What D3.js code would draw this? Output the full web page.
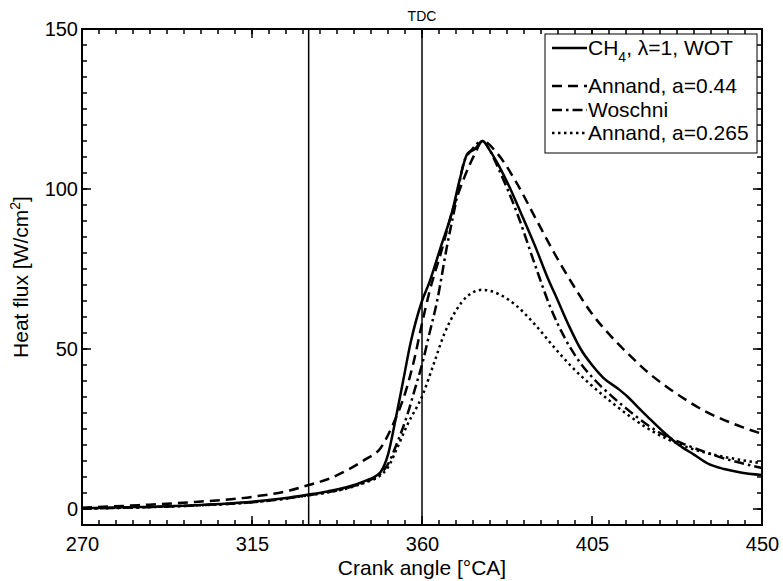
<!DOCTYPE html>
<html>
<head>
<meta charset="utf-8">
<script src="https://cdn.jsdelivr.net/npm/d3@7"></script>
<style>
  body { margin: 0; background: #fff; }
  svg { font-family: "Liberation Sans", Arial, Helvetica, sans-serif; }
  .axis path { display: none; }
  .axis text { font-size: 20px; fill: #000; }
</style>
</head>
<body>
<svg id="chart"></svg>
<script>
// tick labels and marker positions
const angleTicks = [270, 315, 360, 405, 450];
const fluxTicks = [0, 50, 100, 150];
const markerAngles = [330, 360];

// CH4, lambda=1, WOT (measured)
const measAngle = [270, 285, 300, 315, 325, 330, 335, 340, 345, 348, 349, 351, 353, 355, 357, 360, 362, 365, 368, 370, 372, 374, 376, 378, 380, 383, 386, 390, 393, 396, 399, 402, 405, 408, 412, 414.5, 417, 420, 424, 428, 432, 436, 440, 444, 450];
const measFlux  = [0.2, 0.6, 1.2, 2.3, 3.6, 4.5, 5.5, 6.8, 8.8, 10.5, 11.5, 17, 28, 40, 52, 65, 71, 82, 93, 103, 111, 112.5, 115, 112, 108, 101, 93, 82, 73, 65, 57, 50, 45, 41, 37.5, 35, 32, 28.5, 24, 20, 17, 14, 12.5, 11.5, 10.6];

// Annand, a=0.44
const ann44Angle = [270, 285, 300, 315, 325, 330, 335, 340, 345, 349, 352, 356, 358, 360, 362, 365, 368, 371, 374, 376, 380, 385, 390, 395, 400, 405, 410, 415, 420, 425, 430, 435, 440, 445, 450];
const ann44Flux  = [0.4, 1.2, 2.2, 3.8, 5.8, 7.5, 9.3, 12, 15.5, 19, 25.6, 38, 47, 58, 68, 80, 93, 103, 111, 115, 111, 102, 91, 80, 70, 61, 54, 48, 42.5, 38, 34, 30.5, 27.8, 25.5, 23.5];

// Woschni
const woschAngle = [270, 285, 300, 315, 325, 330, 335, 340, 345, 349, 351, 353.4, 356, 358, 360.3, 362, 364, 366.6, 369, 371, 373, 376, 378, 380, 385, 390, 394, 398, 402, 406, 410, 415, 420, 425, 430, 435, 440, 445, 450];
const woschFlux  = [0.1, 0.5, 1.1, 2.1, 3.4, 4.3, 5.2, 6.5, 8.5, 11, 14, 20.6, 29, 37, 46.5, 55, 65, 82, 96, 108, 112, 115, 112, 107, 93, 76, 63, 53, 45.5, 40, 35.5, 30.5, 26, 22.5, 20, 17.8, 15.8, 14.2, 12.8];

// Annand, a=0.265
const ann265Angle = [270, 285, 300, 315, 325, 330, 335, 340, 345, 349, 351, 353.4, 356, 360.3, 363, 366, 369, 372, 376, 380.6, 385, 390, 395, 400, 405, 410, 415, 420, 425, 430, 435, 440, 445, 450];
const ann265Flux  = [0.1, 0.5, 1.1, 2.1, 3.4, 4.3, 5.2, 6.4, 8.3, 10.5, 13, 19, 26, 36, 45, 55, 62, 66.5, 68.5, 67, 63.5, 57.5, 50.5, 44, 38.5, 33.5, 29, 25, 21.8, 19.4, 17.6, 16.3, 15.2, 14.3];

const seriesNames = ["CH4", "Annand, a=0.44", "Woschni", "Annand, a=0.265"];

const width = 783, height = 581;
const margin = {top: 29, right: 21, bottom: 56, left: 82};
const iw = width - margin.left - margin.right;
const ih = height - margin.top - margin.bottom;

const svg = d3.select('#chart').attr('width', width).attr('height', height);
const g = svg.append('g').attr('transform', `translate(${margin.left},${margin.top})`);

const x = d3.scaleLinear().domain([270, 450]).range([0, iw]);
const y = d3.scaleLinear().domain([-5, 150]).range([ih, 0]);

const minorX = d3.range(270, 450.01, 4.5);
const minorY = d3.range(-5, 150.01, 5);

// tick labels from d3 axes
g.append('g').attr('class', 'axis').attr('transform', `translate(0,${ih})`)
    .call(d3.axisBottom(x).tickValues(angleTicks).tickSize(0).tickPadding(12).tickFormat(d3.format('d')));
g.append('g').attr('class', 'axis')
    .call(d3.axisLeft(y).tickValues(fluxTicks).tickSize(0).tickPadding(4).tickFormat(d3.format('d')));

// vertical marker lines
g.selectAll('.marker')
    .data(markerAngles)
  .join('line')
    .attr('class', 'marker')
    .attr('x1', d => x(d)).attr('x2', d => x(d))
    .attr('y1', 0).attr('y2', ih)
    .attr('stroke', '#000').attr('stroke-width', 1.5);

g.append('text')
    .attr('x', x(360)).attr('y', -8)
    .attr('text-anchor', 'middle')
    .style('font-size', '14px')
    .text('TDC');

const line = d3.line().x(d => x(d[0])).y(d => y(d[1])).curve(d3.curveMonotoneX);

const series = [
  {angle: measAngle, flux: measFlux, dash: null},
  {angle: ann44Angle, flux: ann44Flux, dash: '10,6'},
  {angle: woschAngle, flux: woschFlux, dash: '10,4,2.5,4'},
  {angle: ann265Angle, flux: ann265Flux, dash: '2.5,3.5'}
];

g.selectAll('.curve')
    .data(series)
  .join('path')
    .attr('class', 'curve')
    .attr('d', s => line(d3.zip(s.angle, s.flux)))
    .attr('fill', 'none')
    .attr('stroke', '#000')
    .attr('stroke-width', 2.5)
    .attr('stroke-dasharray', s => s.dash);

// frame
g.append('rect')
    .attr('width', iw).attr('height', ih)
    .attr('fill', 'none').attr('stroke', '#000').attr('stroke-width', 2);

// inward tick marks on all four sides, one path each
function tickPath(vals, len) {
  let p = '';
  vals.forEach(v => {
    const px = x(v);
    p += `M${px},${ih}V${ih - len}M${px},0V${len}`;
  });
  return p;
}
function tickPathY(vals, len) {
  let p = '';
  vals.forEach(v => {
    const py = y(v);
    p += `M0,${py}H${len}M${iw},${py}H${iw - len}`;
  });
  return p;
}
const tickSpecs = [
  tickPath(minorX, 5), tickPath(angleTicks, 9),
  tickPathY(minorY, 5), tickPathY(fluxTicks, 9)
];
g.selectAll('.tickmark')
    .data(tickSpecs)
  .join('path')
    .attr('class', 'tickmark')
    .attr('d', d => d)
    .attr('fill', 'none')
    .attr('stroke', '#000')
    .attr('stroke-width', 1.5);

// axis titles
svg.append('text')
    .attr('x', margin.left + iw / 2).attr('y', 575)
    .attr('text-anchor', 'middle')
    .style('font-size', '21px')
    .text('Crank angle [°CA]');

const yt = svg.append('text')
    .attr('transform', `translate(28,${margin.top + ih / 2}) rotate(-90)`)
    .attr('text-anchor', 'middle')
    .style('font-size', '21px');
yt.append('tspan').text('Heat flux [W/cm');
yt.append('tspan').attr('dy', -8).style('font-size', '14px').text('2');
yt.append('tspan').attr('dy', 8).text(']');

// legend
const lg = svg.append('g').attr('transform', 'translate(545,34)');
lg.append('rect')
    .attr('width', 212).attr('height', 119)
    .attr('fill', '#fff').attr('stroke', '#000').attr('stroke-width', 1);

const rowY = [14, 52, 76, 99];
const rows = lg.selectAll('.row')
    .data(series)
  .join('g')
    .attr('class', 'row')
    .attr('transform', (d, i) => `translate(0,${rowY[i]})`);
rows.append('line')
    .attr('x1', 7).attr('x2', 42)
    .attr('stroke', '#000').attr('stroke-width', 2.5)
    .attr('stroke-dasharray', s => s.dash);
rows.each(function(s, i) {
  const t = d3.select(this).append('text')
      .attr('x', 43).attr('dy', '0.35em')
      .style('font-size', '21px');
  if (i === 0) {
    t.append('tspan').text('CH');
    t.append('tspan').attr('dy', 7).style('font-size', '14px').text('4');
    t.append('tspan').attr('dy', -7).text(', λ=1, WOT');
  } else {
    t.text(seriesNames[i]);
  }
});
</script>
</body>
</html>
